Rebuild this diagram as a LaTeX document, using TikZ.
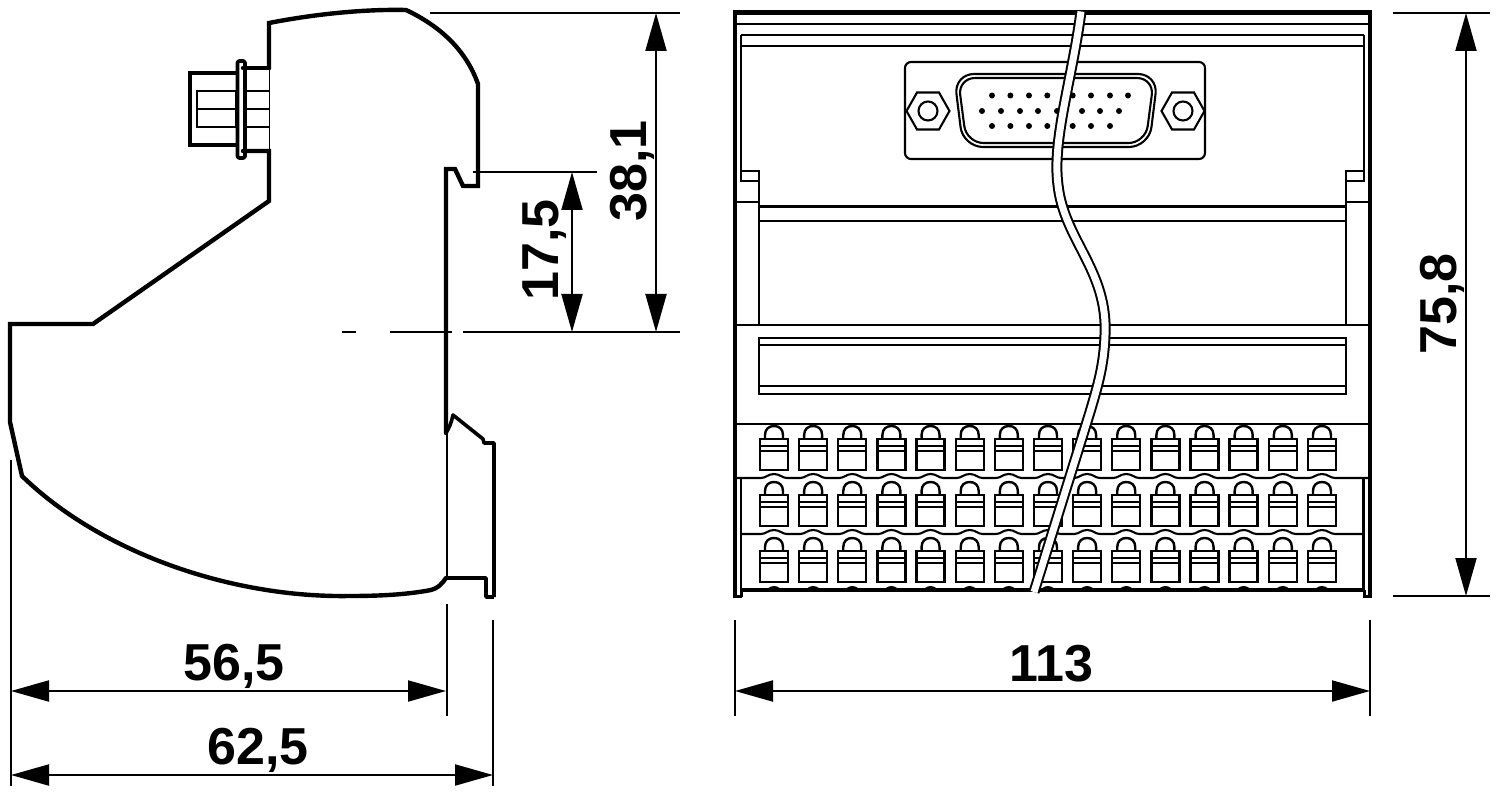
\documentclass[tikz,border=0pt]{standalone}
\usepackage{fontspec}
\setmainfont{Liberation Sans}
\usetikzlibrary{arrows.meta}
\tikzset{
  thickline/.style={line width=4.4pt,line join=miter,line cap=round},
  midline/.style={line width=3.6pt,line join=round},
  thinline/.style={line width=2.1pt,line join=miter},
  dimline/.style={line width=2pt},
  extline/.style={line width=1.8pt},
  dimarrow/.style={dimline,{Triangle[length=38pt,width=21pt]}-{Triangle[length=38pt,width=21pt]},shorten <=0pt,shorten >=0pt},
  dimtext/.style={font=\fontsize{52}{52}\selectfont\bfseries,inner sep=0pt},
  wire/.style={line width=2pt,double=white,double distance=7pt}
}
\begin{document}
\begin{tikzpicture}[x=1pt,y=-1pt]
\useasboundingbox (0,0) rectangle (1500,810);
% ---- side view ----
\draw[thickline] (269,68) -- (269,23) .. controls (310,15) and (360,9) .. (406,10)
  .. controls (440,26) and (466,50) .. (478,84) -- (478,186) -- (463,186) -- (455,169) -- (446,169) -- (446,433);
\draw[thickline] (243,68) -- (269,68);
\draw[thickline] (243,151) -- (269,151) -- (269,201) -- (93,324) -- (10,324) -- (10,422) -- (22,476)
  .. controls (100,552) and (230,598) .. (350,596) .. controls (385,596) and (410,594) .. (431,590)
  .. controls (438,588) and (441,585) .. (446,578);
\draw[midline] (446,433) .. controls (449,428) and (451,424) .. (453,415) -- (483,439) -- (484,443) -- (494,443) -- (494,597);
\draw[midline] (446,578) -- (486,578) -- (486,597) -- (494,597);
\draw[thinline] (447,433) -- (447,578);
\draw[thickline] (236,73) -- (190,73) -- (190,145) -- (236,145);
\draw[midline,rounded corners=1.5pt] (237.5,61) rectangle (245,158);
\draw[thinline] (197,91) rectangle (236,127);
\draw[thinline] (197,109) -- (236,109);
\draw[thinline] (246,91) -- (269,91) (246,109) -- (269,109) (246,127) -- (269,127);
\draw[line width=1pt] (269,68) -- (269,151);
% centre line
\coordinate (cla) at (342,332); \coordinate (clb) at (356,332);
\coordinate (clc) at (390,332); \coordinate (cld) at (452,332);
\draw[extline] (cla) -- (clb) (clc) -- (cld);
% ---- front view ----
\draw[thinline] (735,24) -- (1370,24);
\draw[thinline] (741,35) -- (1364,35);
\draw[thinline] (741,46) -- (1364,46);
\draw[thinline] (759,181) -- (741,181) -- (741,35);
\draw[thinline] (1346,181) -- (1364,181) -- (1364,35);
\draw[thinline] (741,171) -- (759,171) -- (759,325);
\draw[thinline] (1364,171) -- (1346,171) -- (1346,325);
\draw[thinline] (735,202) -- (759,202) (1346,202) -- (1370,202);
\draw[thinline] (759,206.5) -- (1346,206.5) (759,221) -- (1346,221);
\draw[thinline] (735,325) -- (1370,325);
\draw[thinline] (759,338) rectangle (1346,394);
\draw[thinline] (759,345) -- (1346,345) (759,386) -- (1346,386);
\draw[thinline] (735,424) -- (1370,424);
% D-sub connector
\draw[thinline,rounded corners=6pt] (905,62) rectangle (1205,159);
\draw[thinline,rounded corners=20pt] (954,74) -- (963,147) -- (1149,147) -- (1158,74) -- cycle;
\draw[thinline,rounded corners=17pt] (958,78) -- (966.5,143) -- (1145.5,143) -- (1154,78) -- cycle;
\foreach \cx in {928,1183} {
  \draw[thinline] (\cx-21.5,111) -- (\cx-11,92.5) -- (\cx+11,92.5) -- (\cx+21.5,111) -- (\cx+11,129.5) -- (\cx-11,129.5) -- cycle;
  \draw[thinline] (\cx,111) circle (9.5);
}
\foreach \px in {992,1010.4,1029,1047.3,1072.7,1091,1110,1128} \fill (\px,95.5) circle (3);
\foreach \px in {982,1001,1020,1038,1057,1082,1100,1119} \fill (\px,111) circle (3);
\foreach \px in {992,1010.4,1029,1047.3,1072.7,1091,1110} \fill (\px,126) circle (3);
% terminals
\foreach \i in {0,...,14} {
  \pgfmathsetmacro{\tx}{774+39.14*\i}
  \foreach \ty in {439,495,551} {
    \draw[line width=2.4pt] (\tx-14,\ty) rectangle (\tx+14,\ty+31);
    \draw[line width=2pt] (\tx-14,\ty+7) -- (\tx+14,\ty+7) (\tx-14,\ty+12) -- (\tx+14,\ty+12);
    \draw[line width=2.4pt] (\tx-9,\ty) -- (\tx-9,\ty-4) .. controls (\tx-9,\ty-10) and (\tx-5,\ty-13) .. (\tx,\ty-13)
      .. controls (\tx+5,\ty-13) and (\tx+9,\ty-10) .. (\tx+9,\ty-4) -- (\tx+9,\ty);
  }
  \fill ({\tx-12},590) .. controls ({\tx-6},590) and ({\tx-5},586) .. ({\tx},586)
     .. controls ({\tx+5},586) and ({\tx+6},590) .. ({\tx+12},590) -- cycle;
}
\draw[thinline] (735,478)
  \foreach \i in {0,...,14} {
    -- ({774+39.14*\i-13},478) .. controls ({774+39.14*\i-8},478) and ({774+39.14*\i-6},474) .. ({774+39.14*\i},474)
       .. controls ({774+39.14*\i+6},474) and ({774+39.14*\i+8},478) .. ({774+39.14*\i+13},478)
  } -- (1370,478);
\draw[thinline] (741,534)
  \foreach \i in {0,...,14} {
    -- ({774+39.14*\i-13},534) .. controls ({774+39.14*\i-8},534) and ({774+39.14*\i-6},530) .. ({774+39.14*\i},530)
       .. controls ({774+39.14*\i+6},530) and ({774+39.14*\i+8},534) .. ({774+39.14*\i+13},534)
  } -- (1364,534);
\draw[thinline] (741,478) -- (741,590) (1363.5,478) -- (1363.5,590);
% frame
\draw[line width=4.4pt,line join=miter] (742,590) -- (1365,590);
\draw[line width=4.6pt,line join=miter] (1370,597) -- (1370,12.5) -- (735,12.5) -- (735,597);
\draw[line width=3pt] (733,596.5) -- (742,596.5) (1363,596.5) -- (1372,596.5);
\draw[line width=3pt] (741,590) -- (741,597) (1364,590) -- (1364,597);
% break line
\draw[wire] (1081,11.5) .. controls (1072,80) and (1052,140) .. (1058,185)
  .. controls (1064,240) and (1108,270) .. (1105,335)
  .. controls (1104,365) and (1098,385) .. (1090,412) -- (1034,592);
% ---- dimensions ----
\coordinate (e1a) at (430,13); \coordinate (e1b) at (680,13);
\coordinate (e2a) at (473,172); \coordinate (e2b) at (597,172);
\coordinate (e3a) at (463,332); \coordinate (e3b) at (680,332);
\draw[extline] (e1a) -- (e1b) (e2a) -- (e2b) (e3a) -- (e3b);
\coordinate (d1a) at (656,13); \coordinate (d1b) at (656,332);
\draw[dimarrow] (d1a) -- (d1b);
\coordinate (d2a) at (572,172); \coordinate (d2b) at (572,332);
\draw[dimarrow] (d2a) -- (d2b);
\node[dimtext,rotate=90] (t381) at (632,171) {38,1};
\node[dimtext,rotate=90] (t175) at (545,250) {17,5};
\coordinate (e4a) at (11,460); \coordinate (e4b) at (11,786);
\coordinate (e5a) at (447,604); \coordinate (e5b) at (447,716);
\coordinate (e6a) at (493,620); \coordinate (e6b) at (493,786);
\draw[extline] (e4a) -- (e4b) (e5a) -- (e5b) (e6a) -- (e6b);
\coordinate (d3a) at (11,691); \coordinate (d3b) at (446,691);
\draw[dimarrow] (d3a) -- (d3b);
\coordinate (d4a) at (11,775); \coordinate (d4b) at (493,775);
\draw[dimarrow] (d4a) -- (d4b);
\node[dimtext] (t565) at (234,666) {56,5};
\node[dimtext] (t625) at (258,750) {62,5};
\coordinate (e7a) at (735,620); \coordinate (e7b) at (735,716);
\coordinate (e8a) at (1370,620); \coordinate (e8b) at (1370,716);
\draw[extline] (e7a) -- (e7b) (e8a) -- (e8b);
\coordinate (d5a) at (735,691); \coordinate (d5b) at (1370,691);
\draw[dimarrow] (d5a) -- (d5b);
\node[dimtext] (t113) at (1051,664) {113};
\coordinate (e9a) at (1393,13); \coordinate (e9b) at (1490,13);
\coordinate (e10a) at (1393,596); \coordinate (e10b) at (1490,596);
\draw[extline] (e9a) -- (e9b) (e10a) -- (e10b);
\coordinate (d6a) at (1466,13); \coordinate (d6b) at (1466,596);
\draw[dimarrow] (d6a) -- (d6b);
\node[dimtext,rotate=90] (t758) at (1442,304) {75,8};
\end{tikzpicture}
\end{document}
